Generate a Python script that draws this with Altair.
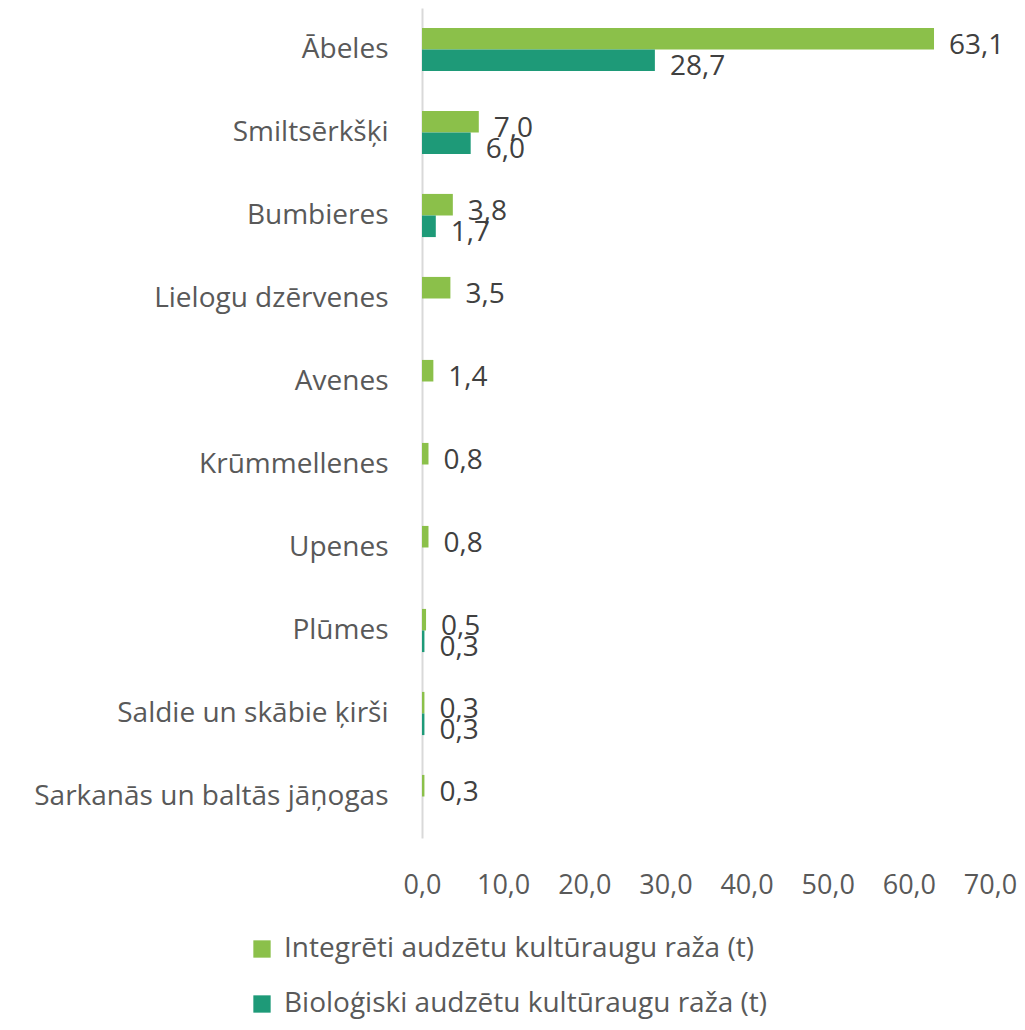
import altair as alt
import pandas as pd

categories = ["Ābeles", "Smiltsērkšķi", "Bumbieres", "Lielogu dzērvenes", "Avenes",
              "Krūmmellenes", "Upenes", "Plūmes", "Saldie un skābie ķirši",
              "Sarkanās un baltās jāņogas"]
series = ["Integrēti audzētu kultūraugu raža (t)", "Bioloģiski audzētu kultūraugu raža (t)"]
integrated = [63.1, 7.0, 3.8, 3.5, 1.4, 0.8, 0.8, 0.5, 0.3, 0.3]
organic = [28.7, 6.0, 1.7, None, None, None, None, 0.3, 0.3, None]
colors = ["#8BC04A", "#1E9A78"]

rows = []
for c, a, b in zip(categories, integrated, organic):
    for s, v in ((series[0], a), (series[1], b)):
        if v is not None:
            rows.append({"cat": c, "series": s, "value": v,
                         "label": f"{v:.1f}".replace(".", ",")})
df = pd.DataFrame(rows)

FONT = "Open Sans"
FS = 28

y = alt.Y("cat:N", sort=categories, title=None,
          scale=alt.Scale(paddingInner=0.48, paddingOuter=0.24),
          axis=alt.Axis(domain=True, domainColor="#D9D9D9", domainWidth=2, ticks=False,
                        labelFontSize=FS, labelColor="#595959", labelFont=FONT,
                        labelPadding=34, labelLimit=500))
yoff = alt.YOffset("series:N", sort=series)

base = alt.Chart(df)
bars = base.mark_bar().encode(
    y=y, yOffset=yoff,
    x=alt.X("value:Q", title=None,
            scale=alt.Scale(domain=[0, 70]),
            axis=alt.Axis(values=[0, 10, 20, 30, 40, 50, 60, 70], domain=False, ticks=False,
                          grid=False, labelFontSize=27, labelColor="#595959", labelFont=FONT,
                          labelPadding=34, labelOverlap=False, labelFlush=False,
                          labelExpr="replace(format(datum.value, '.1f'), '.', ',')")),
    color=alt.Color("series:N", sort=series,
                    scale=alt.Scale(domain=series, range=colors),
                    legend=alt.Legend(title=None, orient="none", legendX=-174, legendY=927,
                                      direction="vertical", symbolType="square",
                                      symbolSize=300, labelFontSize=FS, labelFont=FONT,
                                      labelColor="#595959", rowPadding=27, labelOffset=8,
                                      labelLimit=700)),
)
texts = base.mark_text(align="left", baseline="middle", dx=15, dy=7, fontSize=FS,
                       font=FONT, color="#404040").encode(
    y=alt.Y("cat:N", sort=categories), yOffset=yoff,
    x="value:Q", text="label:N")

chart = (bars + texts).properties(
    width=568, height=830,
    padding={"left": 414, "top": 0, "right": 27, "bottom": 184},
    autosize=alt.AutoSizeParams(type="none"),
    background="white",
).configure_view(strokeWidth=0)

chart.save("out.html", embed_options={"renderer": "svg", "actions": False})
